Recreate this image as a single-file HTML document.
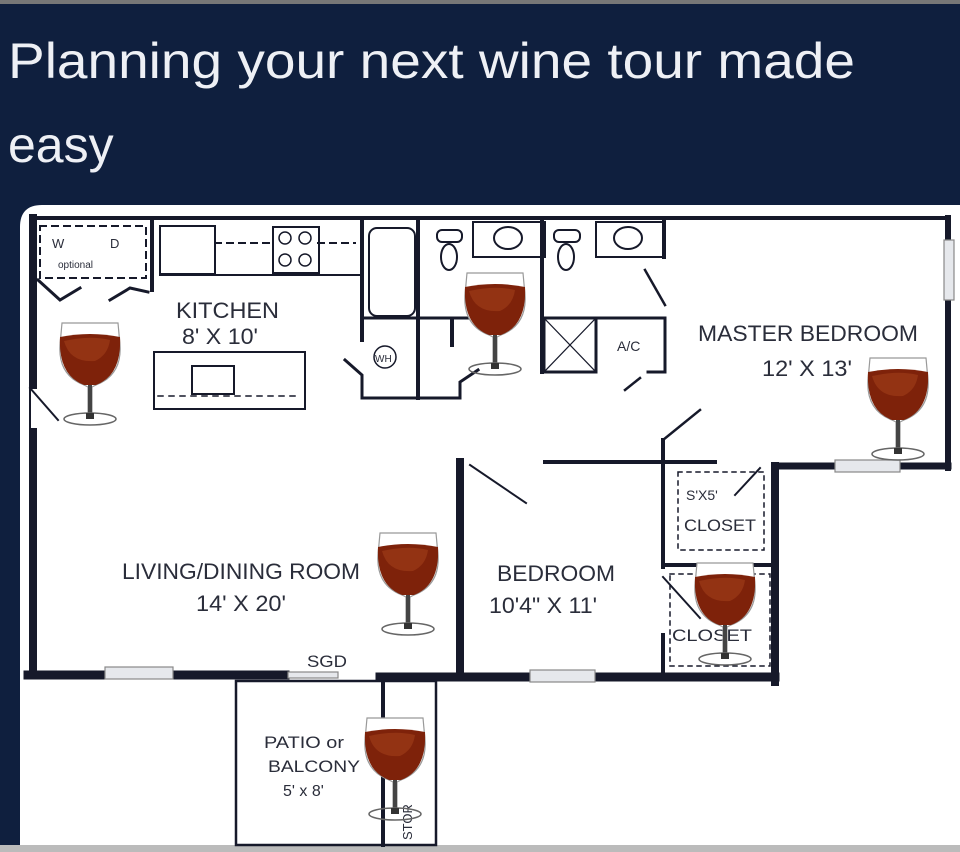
<!DOCTYPE html>
<html><head><meta charset="utf-8"><style>
html,body{margin:0;padding:0;background:#0f1f3e;}
svg{display:block}
text{font-family:"Liberation Sans",sans-serif;}
</style></head><body>
<svg width="960" height="852" viewBox="0 0 960 852" xmlns="http://www.w3.org/2000/svg">
<defs>
<g id="glass">
 <path d="M-28,-52 L28,-52 L30,-30 Q32,0 6,10 L2,12 L2,40 L-2,40 L-2,12 L-6,10 Q-32,0 -30,-30 Z" fill="#fff" stroke="#999" stroke-width="1.2"/>
 <path d="M-30,-38 Q0,-44 30,-38 Q32,0 6,10 L-6,10 Q-32,0 -30,-38 Z" fill="#7e220a"/>
 <path d="M-26,-34 Q0,-40 20,-35 Q18,-20 5,-14 Q-20,-12 -26,-34Z" fill="#a8431c" opacity=".5"/>
 <rect x="-2" y="10" width="4" height="32" fill="#444"/>
 <ellipse cx="0" cy="44" rx="26" ry="6" fill="none" stroke="#666" stroke-width="1.5"/>
 <rect x="-4" y="38" width="8" height="6" fill="#333"/>
</g>
</defs>
<rect width="960" height="852" fill="#0f1f3e"/>
<rect x="0" y="0" width="960" height="4" fill="#777"/>
<text x="8" y="78" font-size="50" fill="#eef0f5" textLength="847" lengthAdjust="spacingAndGlyphs">Planning your next wine tour made</text>
<text x="8" y="162" font-size="50" fill="#eef0f5">easy</text>
<path d="M42,205 L960,205 L960,845 L20,845 L20,227 Q20,205 42,205Z" fill="#fff"/>
<rect x="0" y="845" width="960" height="7" fill="#bbb"/>
<g stroke="#16192a" fill="none" stroke-linecap="square">
 <line x1="33" y1="218" x2="945" y2="218" stroke-width="4"/>
 <line x1="33" y1="218" x2="33" y2="385" stroke-width="8"/>
 <line x1="30" y1="385" x2="30" y2="430" stroke-width="2"/>
 <line x1="30" y1="388" x2="58" y2="420" stroke-width="2"/>
 <line x1="33" y1="432" x2="33" y2="675" stroke-width="8"/>
 <line x1="948" y1="218" x2="948" y2="468" stroke-width="6"/>
 <line x1="775" y1="466" x2="948" y2="466" stroke-width="7"/>
 <line x1="775" y1="466" x2="775" y2="682" stroke-width="8"/>
 <line x1="28" y1="675" x2="285" y2="675" stroke-width="9"/>
 <line x1="380" y1="677" x2="775" y2="677" stroke-width="9"/>
 <line x1="460" y1="462" x2="460" y2="675" stroke-width="8"/>
 <line x1="545" y1="462" x2="715" y2="462" stroke-width="4"/>
 <line x1="470" y1="465" x2="526" y2="503" stroke-width="2"/>
 <line x1="663" y1="440" x2="663" y2="567" stroke-width="4"/>
 <line x1="663" y1="440" x2="700" y2="410" stroke-width="2.5"/>
 <line x1="663" y1="565" x2="775" y2="565" stroke-width="4"/>
 <line x1="663" y1="635" x2="663" y2="677" stroke-width="4"/>
 <line x1="663" y1="577" x2="700" y2="618" stroke-width="2"/>
 <line x1="735" y1="495" x2="760" y2="468" stroke-width="2"/>
 <rect x="236" y="681" width="200" height="164" stroke-width="2.5"/>
 <line x1="383" y1="681" x2="383" y2="845" stroke-width="4"/>
 <path d="M152,218 L152,290" stroke-width="4"/>
 <path d="M38,280 L60,300 L80,288 M110,300 L130,288 L148,292" stroke-width="3"/>
 <rect x="40" y="226" width="106" height="52" stroke-width="2" stroke-dasharray="6,6"/>
 <rect x="160" y="226" width="55" height="48" stroke-width="2"/>
 <line x1="160" y1="275" x2="362" y2="275" stroke-width="2"/>
 <line x1="215" y1="243" x2="272" y2="243" stroke-width="2" stroke-dasharray="6,6"/>
 <line x1="318" y1="243" x2="355" y2="243" stroke-width="2" stroke-dasharray="6,6"/>
 <rect x="273" y="227" width="46" height="46" stroke-width="2"/>
 <circle cx="285" cy="238" r="6" stroke-width="1.5"/><circle cx="305" cy="238" r="6" stroke-width="1.5"/>
 <circle cx="285" cy="260" r="6" stroke-width="1.5"/><circle cx="305" cy="260" r="6" stroke-width="1.5"/>
 <rect x="154" y="352" width="151" height="57" stroke-width="2"/>
 <rect x="192" y="366" width="42" height="28" stroke-width="2"/>
 <line x1="158" y1="396" x2="300" y2="396" stroke-width="1.5" stroke-dasharray="5,6"/>
 <line x1="362" y1="218" x2="362" y2="340" stroke-width="4"/>
 <rect x="369" y="228" width="46" height="88" rx="8" stroke-width="2"/>
 <line x1="418" y1="218" x2="418" y2="398" stroke-width="4"/>
 <line x1="362" y1="318" x2="480" y2="318" stroke-width="3"/>
 <path d="M345,360 L362,375 L362,398 L460,398 L460,382 L478,370" stroke-width="3"/>
 <circle cx="385" cy="357" r="11" stroke-width="1.5"/>
 <line x1="452" y1="320" x2="452" y2="345" stroke-width="4"/>
 <rect x="437" y="230" width="25" height="12" rx="5" stroke-width="2"/>
 <ellipse cx="449" cy="257" rx="8" ry="13" stroke-width="2"/>
 <rect x="473" y="222" width="72" height="35" stroke-width="2"/>
 <ellipse cx="508" cy="238" rx="14" ry="11" stroke-width="2"/>
 <line x1="542" y1="218" x2="542" y2="372" stroke-width="4"/>
 <rect x="554" y="230" width="26" height="12" rx="5" stroke-width="2"/>
 <ellipse cx="566" cy="257" rx="8" ry="13" stroke-width="2"/>
 <rect x="596" y="222" width="68" height="35" stroke-width="2"/>
 <ellipse cx="628" cy="238" rx="14" ry="11" stroke-width="2"/>
 <line x1="664" y1="218" x2="664" y2="257" stroke-width="4"/>
 <rect x="544" y="318" width="52" height="54" stroke-width="3"/>
 <line x1="544" y1="318" x2="596" y2="372" stroke-width="1.2"/><line x1="596" y1="318" x2="544" y2="372" stroke-width="1.2"/>
 <path d="M596,318 L665,318 L665,372 L648,372" stroke-width="3"/>
 <line x1="645" y1="270" x2="665" y2="305" stroke-width="2.5"/>
 <line x1="625" y1="390" x2="640" y2="378" stroke-width="2.5"/>
 <rect x="678" y="472" width="86" height="78" stroke-width="1.5" stroke-dasharray="4,5"/>
 <rect x="670" y="574" width="100" height="92" stroke-width="1.5" stroke-dasharray="4,5"/>
</g>
<g fill="#e6e8ec" stroke="#888" stroke-width="1.2">
 <rect x="105" y="667" width="68" height="12"/>
 <rect x="530" y="670" width="65" height="12"/>
 <rect x="835" y="460" width="65" height="12"/>
 <rect x="944" y="240" width="10" height="60"/>
 <rect x="288" y="672" width="50" height="6"/>
</g>
<g fill="#2a2d3a" font-size="22">
 <text x="176" y="318" textLength="103" lengthAdjust="spacingAndGlyphs">KITCHEN</text>
 <text x="182" y="344" textLength="76" lengthAdjust="spacingAndGlyphs">8' X 10'</text>
 <text x="698" y="341" textLength="220" lengthAdjust="spacingAndGlyphs">MASTER BEDROOM</text>
 <text x="762" y="376" textLength="90" lengthAdjust="spacingAndGlyphs">12' X 13'</text>
 <text x="122" y="579" textLength="238" lengthAdjust="spacingAndGlyphs">LIVING/DINING ROOM</text>
 <text x="196" y="611" textLength="90" lengthAdjust="spacingAndGlyphs">14' X 20'</text>
 <text x="497" y="581" textLength="118" lengthAdjust="spacingAndGlyphs">BEDROOM</text>
 <text x="489" y="613" textLength="108" lengthAdjust="spacingAndGlyphs">10'4" X 11'</text>
 <text x="684" y="531" font-size="17" textLength="72" lengthAdjust="spacingAndGlyphs">CLOSET</text>
 <text x="672" y="641" font-size="17" textLength="80" lengthAdjust="spacingAndGlyphs">CLOSET</text>
 <text x="686" y="500" font-size="14">S'X5'</text>
 <text x="307" y="667" font-size="17" textLength="40" lengthAdjust="spacingAndGlyphs">SGD</text>
 <text x="264" y="748" font-size="17" textLength="80" lengthAdjust="spacingAndGlyphs">PATIO or</text>
 <text x="268" y="772" font-size="17" textLength="92" lengthAdjust="spacingAndGlyphs">BALCONY</text>
 <text x="283" y="796" font-size="16">5' x 8'</text>
 <text x="617" y="351" font-size="14">A/C</text>
 <text x="375" y="362" font-size="10">WH</text>
 <text x="52" y="248" font-size="13">W</text><text x="110" y="248" font-size="13">D</text>
 <text x="58" y="268" font-size="10">optional</text>
 <text transform="translate(412,840) rotate(-90)" font-size="13">STOR</text>
</g>
<use href="#glass" x="90" y="375"/>
<use href="#glass" x="495" y="325"/>
<use href="#glass" x="898" y="410"/>
<use href="#glass" x="408" y="585"/>
<use href="#glass" x="725" y="615"/>
<use href="#glass" x="395" y="770"/>
</svg>
</body></html>
